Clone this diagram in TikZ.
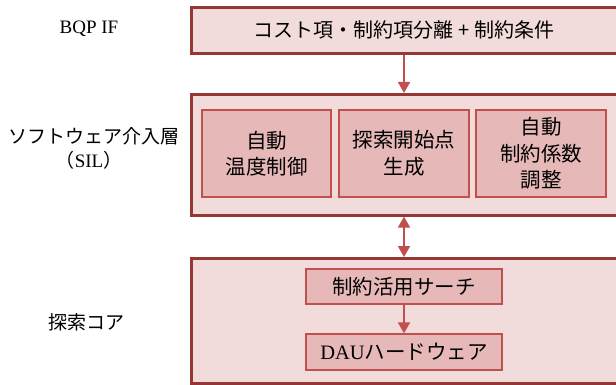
\documentclass[tikz,border=0pt]{standalone}
\usepackage{fontspec}
\setmainfont{Liberation Serif}
\newfontfamily\cjk{Noto Sans CJK JP}
\usetikzlibrary{arrows.meta}
\definecolor{outerfill}{HTML}{F2DCDB}
\definecolor{outerdraw}{HTML}{953735}
\definecolor{innerfill}{HTML}{E6B9B8}
\definecolor{innerdraw}{HTML}{C0504D}
\tikzset{
  layer/.style={draw=outerdraw, fill=outerfill, line width=2.6pt, inner sep=0pt},
  sub/.style={draw=innerdraw, fill=innerfill, line width=1.3pt, inner sep=0pt, align=center,
    font=\fontsize{20.5}{26.5}\selectfont\cjk},
  arr/.style={draw=innerdraw, line width=1.8pt, -{Triangle[width=12pt,length=11pt]}},
  darr/.style={draw=innerdraw, line width=1.8pt, {Triangle[width=12pt,length=11pt]}-{Triangle[width=12pt,length=11pt]}},
  lbl/.style={font=\fontsize{19}{24}\selectfont, align=center}
}
\begin{document}
\begin{tikzpicture}[x=1pt,y=-1pt]
\useasboundingbox (0,0) rectangle (616,385);
\clip (0,0) rectangle (616,385);
% layers
\node[layer, minimum width=435pt, minimum height=46pt, anchor=north west] (bqp) at (190,6) {};
\node[font=\fontsize{20}{24}\selectfont\cjk] (bqptext) at (404,30) {コスト項・制約項分離 + 制約条件};
\node[layer, minimum width=435pt, minimum height=121pt, anchor=north west] (sil) at (190,93) {};
\node[layer, minimum width=435pt, minimum height=125pt, anchor=north west] (core) at (190,257) {};
% SIL sub boxes
\node[sub, minimum width=129pt, minimum height=87pt] (temp) at (266.5,153.5) {自動\\温度制御};
\node[sub, minimum width=130pt, minimum height=87pt] (start) at (404,153.5) {探索開始点\\生成};
\node[sub, minimum width=130pt, minimum height=87pt] (coef) at (541,153.5) {自動\\制約係数\\調整};
% core sub boxes
\node[sub, minimum width=196pt, minimum height=35pt] (search) at (404,286.5) {制約活用サーチ};
\node[sub, minimum width=196pt, minimum height=36pt] (dau) at (404,352) {{\rmfamily DAU}ハードウェア};
% labels
\node[lbl] (l1) at (89,29) {BQP IF};
\node[lbl, font=\fontsize{19}{24}\selectfont\cjk] (l2) at (94,136) {ソフトウェア介入層};
\node[lbl] (l3) at (89,160) {{\cjk （}SIL{\cjk ）}};
\node[lbl, font=\fontsize{19}{24}\selectfont\cjk] (l4) at (86,322) {探索コア};
% connectors
\draw[arr] (bqp.south -| start.north) -- (sil.north -| start.north);
\draw[darr] (sil.south -| start.south) -- (core.north -| start.south);
\draw[arr] (search.south) -- (dau.north);
\end{tikzpicture}
\end{document}
